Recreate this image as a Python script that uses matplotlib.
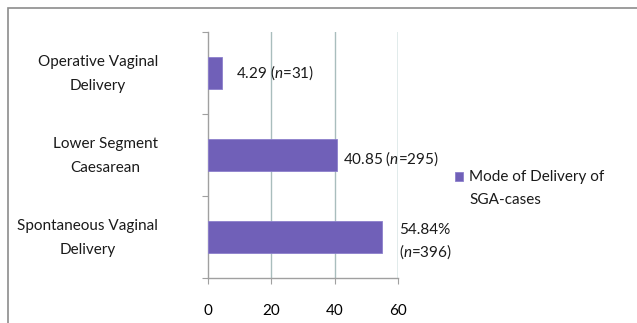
import matplotlib
matplotlib.use("Agg")
import matplotlib.pyplot as plt
from matplotlib.patches import Rectangle

# ── Data ─────────────────────────────────────────────────────────────────────
categories = ["Spontaneous Vaginal\nDelivery", "Lower Segment\nCaesarean",
              "Operative Vaginal\nDelivery"]
percent = [54.84, 40.85, 4.29]
counts = [396, 295, 31]
value_labels = ["54.84%\n($\\it{n}$=396)", "40.85 ($\\it{n}$=295)", "4.29 ($\\it{n}$=31)"]
x_ticks = [0, 20, 40, 60]
series_name = "Mode of Delivery of\nSGA-cases"

BAR_COLOR = "#7060B8"
GRID_COLOR = "#A9BDBD"
FS = 11

plt.rcParams["font.family"] = ["Lato", "DejaVu Sans"]
plt.rcParams["mathtext.fontset"] = "custom"
plt.rcParams["mathtext.rm"] = "Lato"
plt.rcParams["mathtext.it"] = "Lato:italic"

fig = plt.figure(figsize=(6.37, 3.23), dpi=100)
ax = fig.add_axes([0.3265, 0.1393, 0.2983, 0.7616])

# outer chart border
fig.patches.append(Rectangle((8 / 637, -0.1), 1.2, 1 - 8 / 323 + 0.1,
                             transform=fig.transFigure, fill=False,
                             edgecolor="#8C8C8C", linewidth=1.2))

y = list(range(len(categories)))
ax.barh(y, percent, height=0.39, color=BAR_COLOR,
        edgecolor="#8C80CC", linewidth=0.6, zorder=3)

# label offsets (px) from bar end
offsets = [(17, -5), (6, -4), (14, 0)]
for yi, val, lab, off in zip(y, percent, value_labels, offsets):
    ax.annotate(lab, (val, yi), xytext=off, textcoords="offset pixels",
                ha="left", va="center", fontsize=FS, color="#1a1a1a",
                linespacing=1.35)

# category names, centred lines, right edge 50px left of the axis
for yi, cat in zip(y, categories):
    ax.annotate(cat, (0, yi), xytext=(-50, -1), textcoords="offset pixels",
                ha="right", va="center", multialignment="center",
                fontsize=FS, linespacing=1.85, color="#1a1a1a",
                annotation_clip=False)

ax.set_xlim(0, 60)
ax.set_ylim(-0.5, 2.5)
ax.set_xticks(x_ticks)
ax.set_xticklabels([str(t) for t in x_ticks], fontsize=FS)
ax.set_yticks([-0.5, 0.5, 1.5, 2.5])
ax.set_yticklabels([])
ax.tick_params(axis="y", length=4, color="#A0A0A0", width=0.8)
ax.tick_params(axis="x", length=4, color="#A0A0A0", width=0.8, pad=15)

for t in [20, 40]:
    ax.axvline(t, color=GRID_COLOR, linewidth=1.0, zorder=1)
ax.axvline(60, color="#6A9E9E", linewidth=1.0, zorder=1)

for s in ["top", "right"]:
    ax.spines[s].set_visible(False)
for s in ["left", "bottom"]:
    ax.spines[s].set_color("#A0A0A0")
    ax.spines[s].set_linewidth(1.0)

# legend: swatch aligned with the first line of the series name
fig.patches.append(Rectangle((455 / 637, 1 - 181 / 323), 8 / 637, 9 / 323,
                             transform=fig.transFigure, facecolor=BAR_COLOR,
                             edgecolor="#8C80CC", linewidth=0.6))
fig.text(469 / 637, 1 - 170 / 323, series_name, fontsize=FS, ha="left",
         va="top", linespacing=1.85, color="#1a1a1a")

fig.savefig("out.png", dpi=100)
